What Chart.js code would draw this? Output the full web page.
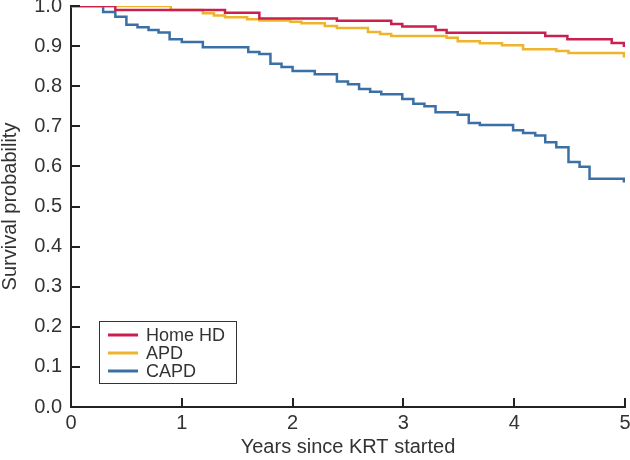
<!DOCTYPE html>
<html>
<head>
<meta charset="utf-8">
<script src="https://cdn.jsdelivr.net/npm/chart.js@4/dist/chart.umd.min.js"></script>
<style>
  html, body { margin: 0; padding: 0; background: #ffffff; }
  #wrap { width: 630px; height: 460px; position: relative; }
</style>
</head>
<body>
<div id="wrap"><canvas id="c" width="630" height="460"></canvas></div>
<script>
// ---- Data ----
const seriesNames = ["Home HD", "APD", "CAPD"];
const seriesColors = ["#C9204F", "#EFB42C", "#3A70A6"];

const homeHdTimes = [0, 0.40, 1.39, 1.70, 2.40, 2.89, 2.99, 3.29, 3.39, 4.28, 4.48, 4.88, 4.99, 5.0];
const homeHdSurv  = [1.0, 0.990, 0.983, 0.969, 0.963, 0.955, 0.949, 0.940, 0.933, 0.925, 0.917, 0.908, 0.901, 0.901];

const apdTimes = [0, 0.90, 1.19, 1.29, 1.39, 1.59, 1.70, 1.98, 2.08, 2.29, 2.40, 2.68, 2.79, 2.89, 3.39, 3.49, 3.69, 3.89, 4.08, 4.38, 4.49, 4.99, 5.0];
const apdSurv  = [1.0, 0.990, 0.982, 0.976, 0.972, 0.967, 0.964, 0.961, 0.957, 0.950, 0.945, 0.935, 0.930, 0.925, 0.921, 0.912, 0.907, 0.902, 0.892, 0.888, 0.883, 0.875, 0.875];

const capdTimes = [0, 0.29, 0.40, 0.50, 0.60, 0.70, 0.79, 0.89, 1.00, 1.19, 1.60, 1.70, 1.80, 1.90, 2.00, 2.20, 2.40, 2.50, 2.60, 2.70, 2.80, 2.99, 3.09, 3.19, 3.29, 3.49, 3.59, 3.69, 3.99, 4.08, 4.19, 4.28, 4.38, 4.49, 4.59, 4.68, 4.99, 5.0];
const capdSurv  = [1.0, 0.985, 0.973, 0.953, 0.947, 0.940, 0.934, 0.917, 0.910, 0.897, 0.885, 0.880, 0.856, 0.848, 0.838, 0.830, 0.812, 0.805, 0.793, 0.786, 0.780, 0.768, 0.756, 0.750, 0.735, 0.729, 0.708, 0.703, 0.690, 0.683, 0.677, 0.660, 0.648, 0.611, 0.599, 0.569, 0.563, 0.563];

const xTickValues = [0, 1, 2, 3, 4, 5];
const yTickValues = [0, 0.1, 0.2, 0.3, 0.4, 0.5, 0.6, 0.7, 0.8, 0.9, 1.0];
const xTitle = "Years since KRT started";
const yTitle = "Survival probability";

function pts(ts, ss) { return ts.map((t, i) => ({ x: t, y: ss[i] })); }
const seriesData = [pts(homeHdTimes, homeHdSurv), pts(apdTimes, apdSurv), pts(capdTimes, capdSurv)];

const FONT = "'Liberation Sans', Arial, Helvetica, sans-serif";
const TEXT = "#333333";
const AXIS = "#222222";

// Inward tick marks
const innerTicks = {
  id: 'innerTicks',
  afterDatasetsDraw(chart) {
    const { ctx, chartArea, scales } = chart;
    ctx.save();
    ctx.strokeStyle = AXIS;
    ctx.lineWidth = 2;
    ctx.beginPath();
    xTickValues.forEach(v => {
      const px = Math.round(scales.x.getPixelForValue(v));
      ctx.moveTo(px, chartArea.bottom);
      ctx.lineTo(px, chartArea.bottom - 9);
    });
    yTickValues.forEach(v => {
      const py = Math.round(scales.y.getPixelForValue(v));
      ctx.moveTo(chartArea.left, py);
      ctx.lineTo(chartArea.left + 9, py);
    });
    ctx.stroke();
    ctx.restore();
  }
};

// Boxed legend in the lower-left of the plot
const boxLegend = {
  id: 'boxLegend',
  afterDatasetsDraw(chart) {
    const { ctx, chartArea } = chart;
    const x0 = chartArea.left + 28, y0 = chartArea.bottom - 86;
    const w = 137, h = 62;
    ctx.save();
    ctx.fillStyle = '#ffffff';
    ctx.fillRect(x0, y0, w, h);
    ctx.strokeStyle = '#333333';
    ctx.lineWidth = 1;
    ctx.strokeRect(x0 + 0.5, y0 + 0.5, w, h);
    ctx.font = "18px " + FONT;
    ctx.textBaseline = 'middle';
    ctx.textAlign = 'left';
    chart.data.datasets.forEach((ds, i) => {
      const y = y0 + 14 + i * 18;
      ctx.strokeStyle = ds.borderColor;
      ctx.lineWidth = 3;
      ctx.beginPath();
      ctx.moveTo(x0 + 9, y);
      ctx.lineTo(x0 + 39, y);
      ctx.stroke();
      ctx.fillStyle = TEXT;
      ctx.fillText(ds.label, x0 + 47, y + 1);
    });
    ctx.restore();
  }
};

new Chart(document.getElementById('c'), {
  type: 'line',
  data: {
    datasets: seriesNames.map((name, i) => ({
      label: name,
      data: seriesData[i],
      borderColor: seriesColors[i],
      backgroundColor: seriesColors[i],
      borderWidth: 2.5,
      stepped: true,
      pointRadius: 0,
      fill: false,
      tension: 0
    }))
  },
  options: {
    responsive: false,
    animation: false,
    layout: { padding: { top: 6, right: 5, bottom: 0, left: 0 } },
    plugins: { legend: { display: false }, tooltip: { enabled: false } },
    scales: {
      x: {
        type: 'linear',
        min: 0, max: 5,
        afterBuildTicks(scale) { scale.ticks = xTickValues.map(v => ({ value: v })); },
        afterFit(scale) { scale.height = 53; scale.paddingLeft = 0; scale.paddingRight = 0; },
        ticks: {
          color: TEXT,
          font: { family: FONT, size: 20 },
          padding: 4,
          maxRotation: 0,
          callback: v => String(v)
        },
        grid: { display: false, drawTicks: false },
        border: { display: true, color: AXIS, width: 2 },
        title: {
          display: true, text: xTitle, color: TEXT,
          font: { family: FONT, size: 20 },
          padding: { top: 0, bottom: 1 }
        }
      },
      y: {
        type: 'linear',
        min: 0, max: 1,
        afterBuildTicks(scale) { scale.ticks = yTickValues.map(v => ({ value: v })); },
        afterFit(scale) { scale.width = 71; scale.paddingTop = 0; scale.paddingBottom = 0; },
        ticks: {
          color: TEXT,
          font: { family: FONT, size: 20, lineHeight: 0.6 },
          padding: 9,
          callback: v => Number(v).toFixed(1)
        },
        grid: { display: false, drawTicks: false },
        border: { display: true, color: AXIS, width: 2 },
        title: {
          display: true, text: yTitle, color: TEXT,
          font: { family: FONT, size: 20, lineHeight: 1.0 },
          padding: { top: 0, bottom: 0 }
        }
      }
    }
  },
  plugins: [innerTicks, boxLegend]
});
</script>
</body>
</html>
